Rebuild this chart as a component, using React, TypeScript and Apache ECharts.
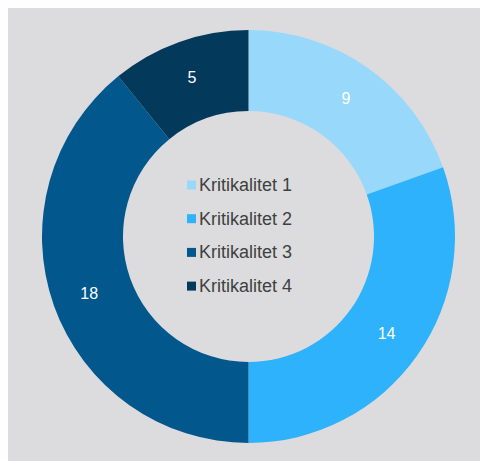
import React, { useEffect, useRef } from "react";
import * as echarts from "echarts";

const categories = ["Kritikalitet 1", "Kritikalitet 2", "Kritikalitet 3", "Kritikalitet 4"];
const values = [9, 14, 18, 5];
const colors = ["#98d8fb", "#2eb2fb", "#02588c", "#033a5c"];

export default function App() {
  const ref = useRef<HTMLDivElement>(null);
  useEffect(() => {
    document.documentElement.style.overflow = "hidden";
    const chart = echarts.init(ref.current!, null, { renderer: "svg" });
    chart.setOption({
      animation: false,
      backgroundColor: "#dcdcde",
      color: colors,
      legend: {
        orient: "vertical",
        left: 174,
        top: 163,
        itemGap: 15.7,
        itemWidth: 9,
        itemHeight: 9,
        icon: "rect",
        data: categories,
        textStyle: {
          fontFamily: "Liberation Sans, Arial, sans-serif",
          fontSize: 18,
          lineHeight: 18,
          color: "#404040",
          padding: [0, 0, 0, -2],
        },
      },
      series: [
        {
          type: "pie",
          center: [240.5, 228.5],
          radius: [125.5, 206.5],
          startAngle: 90,
          clockwise: true,
          avoidLabelOverlap: false,
          label: {
            show: true,
            position: "inside",
            color: "#ffffff",
            fontSize: 16,
            fontFamily: "Liberation Sans, Arial, sans-serif",
            formatter: "{c}",
          },
          labelLine: { show: false },
          itemStyle: { borderWidth: 0 },
          emphasis: { disabled: true },
          data: categories.map((name, i) => ({ name, value: values[i] })),
        },
      ],
    });
    return () => chart.dispose();
  }, []);
  return (
    <div style={{ position: "fixed", left: 0, top: 0, width: 480, height: 461, background: "#fefefe" }}>
      <div
        ref={ref}
        style={{ position: "absolute", left: 8, top: 8, width: 472, height: 453 }}
      />
    </div>
  );
}
